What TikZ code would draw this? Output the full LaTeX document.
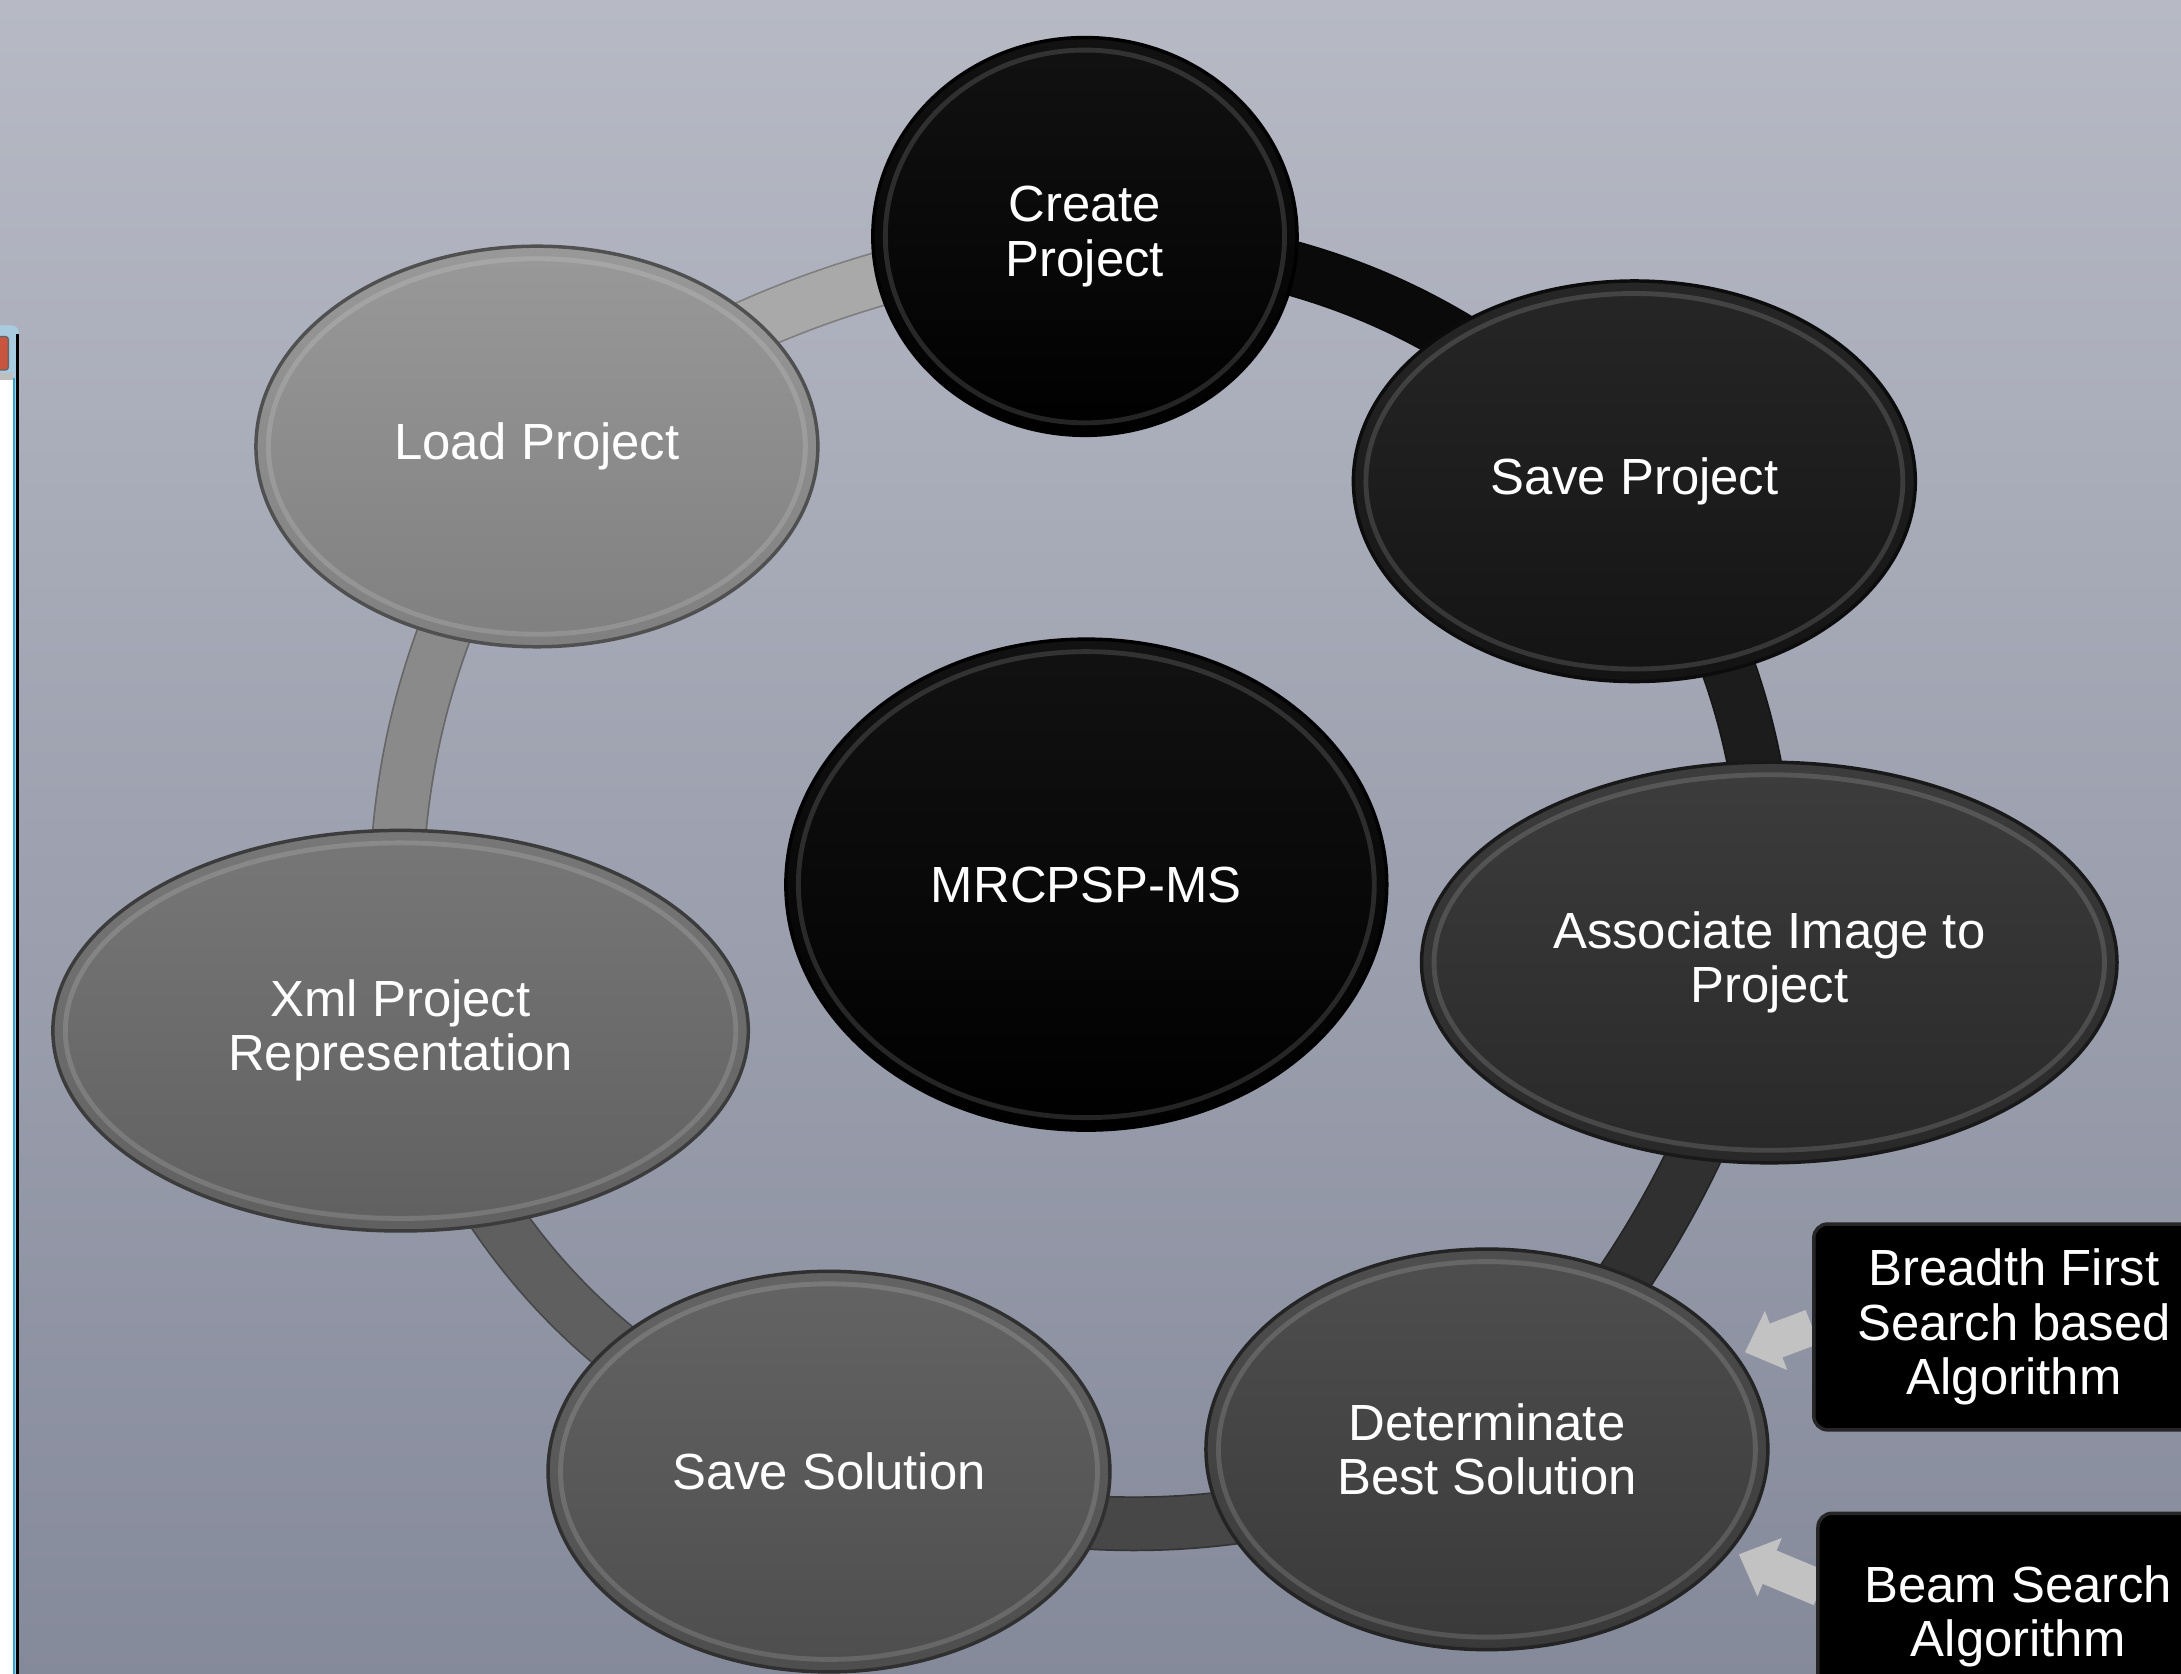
\documentclass[tikz,border=0pt]{standalone}
\usepackage{fontspec}
\setmainfont{Liberation Sans}
\usetikzlibrary{shapes.geometric,arrows.meta,calc}
\pgfdeclarelayer{bg}
\pgfdeclarelayer{mid}
\pgfsetlayers{bg,mid,main}
\definecolor{bgtop}{HTML}{B7BAC5}
\definecolor{bgbot}{HTML}{858A9B}
\definecolor{cCreate}{HTML}{000000}
\definecolor{cSave}{HTML}{161616}
\definecolor{cAssoc}{HTML}{2E2E2E}
\definecolor{cDet}{HTML}{414141}
\definecolor{cSol}{HTML}{585858}
\definecolor{cXml}{HTML}{6D6D6D}
\definecolor{cLoad}{HTML}{919191}
\definecolor{rA}{HTML}{0A0A0A}
\definecolor{rB}{HTML}{1C1C1C}
\definecolor{rC}{HTML}{303030}
\definecolor{rD}{HTML}{474747}
\definecolor{rE}{HTML}{5F5F5F}
\definecolor{rF}{HTML}{8A8A8A}
\definecolor{rG}{HTML}{A9A9A9}
\definecolor{arrowgray}{HTML}{C2C2C2}
\definecolor{winblue}{HTML}{A9CBE0}
\definecolor{winline}{HTML}{2FA8D0}
\definecolor{btnred}{HTML}{C8553F}
\newcommand\cycnode[7]{%
  \node[cyc, minimum width={#4*0.1mm}, minimum height={#5*0.1mm},
        top color=#6!93!white, bottom color=#6!88!black, draw=#6!55!black] (#1) at (#2,#3) {#7};
  \draw[white, opacity=0.14, line width=0.35mm] (#1.center) ellipse [x radius={(#4/2-9)*0.1mm}, y radius={(#5/2-9)*0.1mm}];}
\begin{document}
\begin{tikzpicture}[x=0.1mm,y=-0.1mm,
  cyc/.style={ellipse, inner sep=0pt, line width=0.25mm, text=white, align=center,
              font=\fontsize{10.4}{11.1}\selectfont},
  algbox/.style={rectangle, rounded corners=1mm, fill=black, draw=black!85, line width=0.25mm,
              minimum width=28.8mm, minimum height=14.8mm, text=white, align=center,
              font=\fontsize{10.4}{11.1}\selectfont},
  ringseg/.style={line width=3.7mm, draw=#1, line cap=butt},
  ringedge/.style={line width=3.95mm, draw=#1!75!black, line cap=butt},
  barrow/.style={draw=arrowgray, line width=2.6mm, -{Triangle[width=4.4mm,length=2.4mm]}, shorten >=0.6mm}]
\useasboundingbox (0,0) rectangle (1568,1203);
\clip (0,0) rectangle (1568,1203);
\begin{pgfonlayer}{bg}
  \shade[top color=bgtop, bottom color=bgbot] (0,0) rectangle (1568,1203);
  % window edge at the left border
  \fill[winblue, rounded corners=0.5mm] (-20,234) rectangle (13.5,1230);
  \fill[white] (-20,272) rectangle (9,1230);
  \fill[winline] (9,272) rectangle (11,1230);
  \draw[black, line width=0.2mm] (12.8,240) -- (12.8,1230);
  \fill[btnred, draw=black!60, line width=0.1mm, rounded corners=0.2mm] (-10,242) rectangle (6,266);
  \fill[black!25] (-10,268) rectangle (9,273);
\end{pgfonlayer}

\cycnode{create}{780}{170}{305}{286}{cCreate}{Create\\Project}
\cycnode{save}{1175}{346}{404}{288}{cSave}{Save Project}
\cycnode{assoc}{1272}{692}{500}{288}{cAssoc}{Associate Image to\\Project}
\cycnode{det}{1069}{1042}{404}{288}{cDet}{Determinate\\Best Solution}
\cycnode{sol}{596}{1058}{404}{288}{cSol}{Save Solution}
\cycnode{xml}{288}{741}{500}{288}{cXml}{Xml Project\\Representation}
\cycnode{load}{386}{321}{404}{288}{cLoad}{Load Project}
\cycnode{core}{781}{636}{432}{353}{cCreate}{MRCPSP-MS}

\node[algbox] (bfs) at (1448,954) {Breadth First\\Search based\\Algorithm};
\node[algbox] (beam) at (1451,1162) {Beam Search\\Algorithm};
\coordinate (beamtail) at (1309,1142);

\begin{pgfonlayer}{mid}
  \foreach \a/\b/\c/\t in {create/save/rA/20.8, save/assoc/rB/16.5, assoc/det/rC/12.2,
                          det/sol/rD/19, sol/xml/rE/23, xml/load/rF/17.9, load/create/rG/12.6}{
    \draw[ringedge=\c] (\a.center) to[bend left=\t] (\b.center);
    \draw[ringseg=\c] (\a.center) to[bend left=\t] (\b.center);
  }
  \draw[barrow] (bfs.west) -- (det);
  \draw[barrow] (beamtail) -- (det);
\end{pgfonlayer}
\end{tikzpicture}
\end{document}
